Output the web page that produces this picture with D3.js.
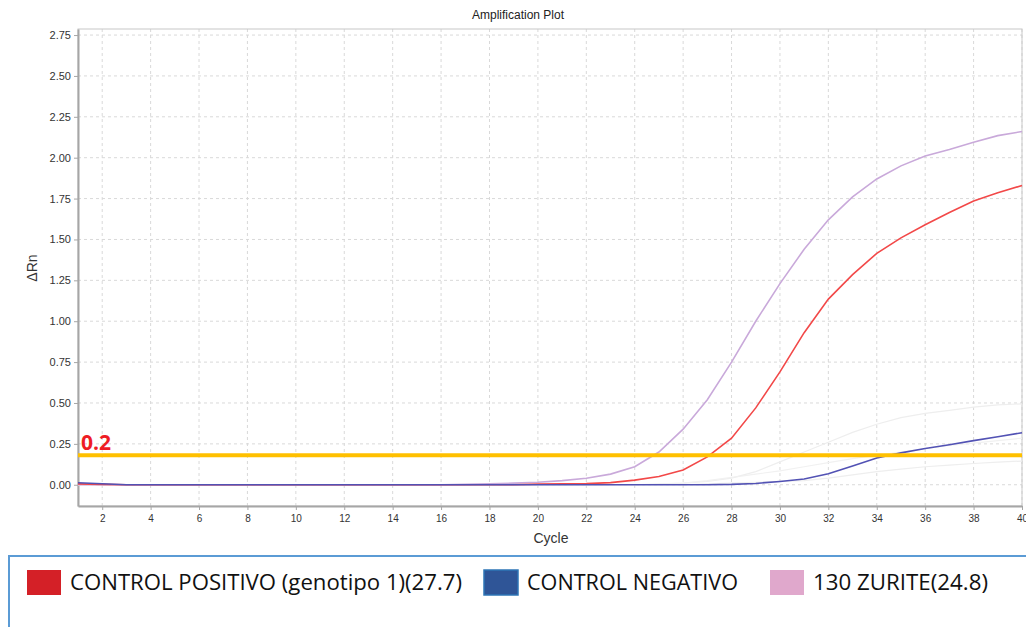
<!DOCTYPE html>
<html>
<head>
<meta charset="utf-8">
<script src="https://cdn.jsdelivr.net/npm/d3@7"></script>
<style>
    body { margin: 0; background: #fff; }
    svg { display: block; font-family: "Liberation Sans", Arial, sans-serif; }
    .tick text { fill: #333; font-size: 11px; }
    .grid line { stroke: #d9d9d9; stroke-dasharray: 3, 3; }
</style>
</head>
<body>
<div id="chart"></div>
<script>
///// DATA
const cycles = d3.range(1, 41);

// 130 ZURITE
const zurite = [0, 0, 0, 0, 0, 0, 0, 0, 0, 0, 0, 0, 0, 0, 0, 0, 0.002, 0.005, 0.01, 0.015,
    0.025, 0.04, 0.065, 0.11, 0.2, 0.34, 0.52, 0.75, 1.0, 1.23,
    1.44, 1.62, 1.76, 1.87, 1.95, 2.01, 2.05, 2.095, 2.135, 2.16];

// CONTROL POSITIVO
const positivo = [0.005, 0.002, 0, 0, 0, 0, 0, 0, 0, 0, 0, 0, 0, 0, 0, 0, 0, 0, 0, 0.004,
    0.005, 0.007, 0.013, 0.028, 0.05, 0.09, 0.17, 0.285, 0.47, 0.69,
    0.93, 1.135, 1.285, 1.415, 1.51, 1.59, 1.665, 1.735, 1.785, 1.83];

// CONTROL NEGATIVO
const negativo = [0.012, 0.006, 0, 0, 0, 0, 0, 0, 0, 0, 0, 0, 0, 0, 0, 0, 0, 0, 0, 0,
    0, 0, 0, 0, 0, 0, 0, 0.002, 0.008, 0.02,
    0.035, 0.067, 0.115, 0.163, 0.195, 0.222, 0.245, 0.27, 0.293, 0.318];

// other wells (faint)
const faintA = [0, 0, 0, 0, 0, 0, 0, 0, 0, 0, 0, 0, 0, 0, 0, 0, 0, 0, 0, 0,
    0, 0, 0, 0, 0.005, 0.01, 0.02, 0.04, 0.08, 0.14,
    0.2, 0.26, 0.32, 0.37, 0.41, 0.436, 0.455, 0.475, 0.488, 0.495];
const faintB = [0, 0, 0, 0, 0, 0, 0, 0, 0, 0, 0, 0, 0, 0, 0, 0, 0, 0, 0, 0,
    0, 0, 0, 0, 0, 0, 0.005, 0.01, 0.015, 0.02,
    0.025, 0.04, 0.06, 0.08, 0.095, 0.11, 0.12, 0.13, 0.138, 0.145];
const faintC = [0, 0, 0, 0, 0, 0, 0, 0, 0, 0, 0, 0, 0, 0, 0, 0, 0, 0, 0, 0,
    0, 0, 0, 0, 0.003, 0.01, 0.025, 0.045, 0.065, 0.085,
    0.11, 0.135, 0.16, 0.18, 0.2, 0.22, 0.24, 0.255, 0.27, 0.285];

const xTicks = d3.range(2, 41, 2);
const yTicks = d3.range(0, 2.76, 0.25);
const threshold = 0.18;

const legendNames = ['CONTROL POSITIVO (genotipo 1)(27.7)', 'CONTROL NEGATIVO', '130 ZURITE(24.8)'];
const legendColors = ['#d42027', '#2f5597', '#e0a8cc'];

///// SVG
const width = 1026, height = 627;
const svg = d3.select('#chart').append('svg')
    .attr('width', width)
    .attr('height', height);

const MARGIN = { top: 29, right: 4, bottom: 121, left: 78 };
const gW = width - MARGIN.left - MARGIN.right;
const gH = height - MARGIN.top - MARGIN.bottom;

const g = svg.append('g')
    .attr('transform', `translate(${MARGIN.left}, ${MARGIN.top})`);

// SCALES
const x = d3.scaleLinear().domain([1, 40]).range([0, gW]);
const y = d3.scaleLinear().domain([-0.13, 2.787]).range([gH, 0]);

// GRID
g.append('g').attr('class', 'grid')
    .selectAll('line').data(xTicks).enter().append('line')
    .attr('x1', d => x(d)).attr('x2', d => x(d))
    .attr('y1', 0).attr('y2', gH);

g.append('g').attr('class', 'grid')
    .selectAll('line').data(yTicks).enter().append('line')
    .attr('x1', 0).attr('x2', gW)
    .attr('y1', d => y(d)).attr('y2', d => y(d));

// FRAME
g.append('rect')
    .attr('width', gW).attr('height', gH)
    .attr('fill', 'none').attr('stroke', '#c8c8c8');

// AXES
const xAxis = g.append('g')
    .attr('transform', `translate(0, ${gH})`)
    .call(d3.axisBottom(x).tickValues(xTicks).tickSizeInner(4).tickSizeOuter(0).tickPadding(5));
const yAxis = g.append('g')
    .call(d3.axisLeft(y).tickValues(yTicks).tickFormat(d3.format('.2f')).tickSizeInner(4).tickSizeOuter(0).tickPadding(3));

[xAxis, yAxis].forEach(a => {
    a.select('.domain').attr('stroke', '#a6a6a6').attr('stroke-width', 2);
    a.selectAll('.tick line').attr('stroke', '#a6a6a6');
});
xAxis.selectAll('.tick text').style('font-size', '10px').attr('fill', '#444');

// LINES
const line = d3.line()
    .x((d, i) => x(cycles[i]))
    .y(d => y(d));

const series = [
    { data: faintA, color: '#eeeeee', w: 1.2 },
    { data: faintB, color: '#eeeeee', w: 1.2 },
    { data: faintC, color: '#f1f1f1', w: 1.2 },
    { data: zurite, color: '#c9a9da', w: 1.6 },
    { data: positivo, color: '#f24848', w: 1.6 },
    { data: negativo, color: '#5252b4', w: 1.6 }
];

g.selectAll('.series').data(series).enter().append('path')
    .attr('class', 'series')
    .attr('fill', 'none')
    .attr('stroke', d => d.color)
    .attr('stroke-width', d => d.w)
    .attr('d', d => line(d.data));

// THRESHOLD
g.append('line')
    .attr('x1', 0).attr('x2', gW)
    .attr('y1', y(threshold)).attr('y2', y(threshold))
    .attr('stroke', '#ffc000')
    .attr('stroke-width', 4);

g.append('text')
    .attr('x', 3)
    .attr('y', y(threshold) - 5)
    .attr('fill', '#ee1c24')
    .style('font-size', '21px')
    .style('font-weight', 'bold')
    .style('font-family', '"Open Sans", "Liberation Sans", sans-serif')
    .text('0.2');

// TITLES
svg.append('text')
    .attr('x', 518).attr('y', 19)
    .attr('text-anchor', 'middle')
    .style('font-size', '12px')
    .attr('fill', '#222')
    .text('Amplification Plot');

svg.append('text')
    .attr('x', 551).attr('y', 543)
    .attr('text-anchor', 'middle')
    .style('font-size', '14px')
    .attr('fill', '#333')
    .text('Cycle');

svg.append('text')
    .attr('transform', 'translate(37, 268) rotate(-90)')
    .attr('text-anchor', 'middle')
    .style('font-size', '14px')
    .attr('fill', '#333')
    .text('ΔRn');

///// LEGEND
svg.append('path')
    .attr('d', `M9,${height + 5} L9,556 L${width + 5},556`)
    .attr('fill', 'none')
    .attr('stroke', '#5b9bd5')
    .attr('stroke-width', 2);

const legendX = [27, 484, 770];
const legendW = [392, 211, 175];

const items = svg.selectAll('.legend-item')
    .data(legendNames).enter().append('g')
    .attr('class', 'legend-item')
    .attr('transform', (d, i) => `translate(${legendX[i]}, 570)`);

items.append('rect')
    .attr('width', 34).attr('height', 25)
    .attr('fill', (d, i) => legendColors[i])
    .attr('stroke', (d, i) => i === 1 ? '#2e75b6' : 'none')
    .attr('stroke-width', 1.5);

items.append('text')
    .attr('x', 43).attr('y', 20)
    .style('font-size', '21px')
    .style('font-family', '"Liberation Sans Narrow", "Open Sans", sans-serif')
    .attr('fill', '#111')
    .attr('textLength', (d, i) => legendW[i])
    .attr('lengthAdjust', 'spacingAndGlyphs')
    .text(d => d);
</script>
</body>
</html>
